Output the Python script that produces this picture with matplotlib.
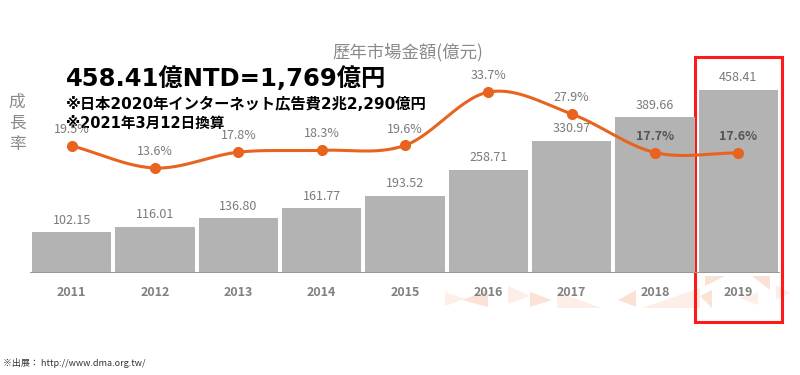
import numpy as np
import matplotlib.pyplot as plt
from matplotlib.patches import Polygon, Rectangle

plt.rcParams['font.family'] = ['Noto Sans CJK JP', 'DejaVu Sans']

years = ['2011', '2012', '2013', '2014', '2015', '2016', '2017', '2018', '2019']
amounts = [102.15, 116.01, 136.80, 161.77, 193.52, 258.71, 330.97, 389.66, 458.41]
growth = [19.5, 13.6, 17.8, 18.3, 19.6, 33.7, 27.9, 17.7, 17.6]

bar_color = '#b3b3b3'
line_color = '#e8641e'
label_color = '#7a7a7a'
wide = ['DejaVu Sans', 'Noto Sans CJK JP']


def catmull_rom(xs, ys, n=30):
    # smooth curve through the points (for drawing only)
    px = np.concatenate([[2 * xs[0] - xs[1]], xs, [2 * xs[-1] - xs[-2]]])
    py = np.concatenate([[2 * ys[0] - ys[1]], ys, [2 * ys[-1] - ys[-2]]])
    cx, cy = [], []
    t = np.linspace(0, 1, n)
    for i in range(1, len(px) - 2):
        for p, out in ((px, cx), (py, cy)):
            p0, p1, p2, p3 = p[i - 1], p[i], p[i + 1], p[i + 2]
            out.extend(0.5 * ((2 * p1) + (-p0 + p2) * t
                              + (2 * p0 - 5 * p1 + 4 * p2 - p3) * t ** 2
                              + (-p0 + 3 * p1 - 3 * p2 + p3) * t ** 3))
    return np.array(cx), np.array(cy)


fig = plt.figure(figsize=(8, 3.75), dpi=100)

# background overlay in pixel coordinates for decoration and free text
bg = fig.add_axes([0, 0, 1, 1])
bg.set_xlim(0, 800)
bg.set_ylim(375, 0)
bg.axis('off')

tris = [
    [(445, 292), (465, 299), (445, 306)],
    [(462, 300), (488, 290), (488, 307)],
    [(508, 286), (530, 296), (508, 304)],
    [(530, 292), (552, 300), (530, 307)],
    [(557, 292), (602, 308), (557, 308)],
    [(618, 300), (636, 290), (636, 307)],
    [(642, 308), (700, 288), (700, 308)],
    [(700, 296), (712, 290), (712, 308)],
    [(740, 298), (758, 292), (758, 305)],
    [(752, 276), (770, 276), (770, 290)],
    [(776, 285), (790, 293), (776, 300)],
    [(705, 276), (725, 276), (705, 286)],
]
for i, tr in enumerate(tris):
    bg.add_patch(Polygon(tr, closed=True, facecolor='#f4a27a',
                         alpha=0.18 if i % 2 == 0 else 0.3, lw=0))

ax = fig.add_axes([30 / 800, (375 - 273) / 375, 750 / 800, 233 / 375])
x = np.arange(len(years))
ax.bar(x, amounts, width=0.95, color=bar_color, zorder=2)
ax.set_xlim(-0.5, len(years) - 0.5)
ax.set_ylim(0, 582.5)
ax.axhline(0, color='#999999', lw=1.5, zorder=3)
for i, v in enumerate(amounts):
    ax.text(i, v + 14, f'{v:.2f}', ha='center', va='bottom',
            fontsize=9, color=label_color)
ax.set_xticks(x)
ax.set_xticklabels(years, fontsize=9, fontweight='bold', color='#808080')
ax.tick_params(axis='x', length=0, pad=9)
ax.set_yticks([])
for s in ax.spines.values():
    s.set_visible(False)
ax.patch.set_alpha(0)

ax2 = ax.twinx()
ax2.set_ylim(-14.2, 47.5)
ax2.set_yticks([])
for s in ax2.spines.values():
    s.set_visible(False)
sx, sy = catmull_rom(x.astype(float), np.array(growth, dtype=float))
ax2.plot(sx, sy, color=line_color, lw=2.2, zorder=4)
ax2.plot(x, growth, 'o', color=line_color, ms=7, zorder=5)
for i, g in enumerate(growth):
    bold = i >= 7
    ax2.text(i, g + 2.6, f'{g:.1f}%', ha='center', va='bottom', fontsize=9,
             color='#555555' if bold else label_color,
             fontweight='bold' if bold else 'normal')

# texts
bg.text(408, 52, '歷年市場金額(億元)', ha='center', va='center', fontsize=12.5,
        color='#8a8a8a', family=['Noto Sans CJK TC', 'DejaVu Sans'])
bg.text(66, 79, '458.41億NTD=1,769億円', ha='left', va='center',
        fontsize=17.5, fontweight='bold', color='black', family=wide)
bg.text(66, 104, '※日本2020年インターネット広告費2兆2,290億円', ha='left',
        va='center', fontsize=11, fontweight='bold', color='black', family=wide)
bg.text(66, 123, '※2021年3月12日換算', ha='left', va='center',
        fontsize=10.5, fontweight='bold', color='black', family=wide)
for k, ch in enumerate('成長率'):
    bg.text(17, 102 + 21 * k, ch, ha='center', va='center', fontsize=12,
            color='#8a8a8a', family=['Noto Sans CJK TC', 'DejaVu Sans'])
bg.text(3, 363, '※出展： http://www.dma.org.tw/', ha='left', va='center',
        fontsize=6.5, color='#333333')

bg.add_patch(Rectangle((695, 57), 87, 265, fill=False, edgecolor='#ff1a1a',
                       lw=2.2, zorder=10))
bg.set_zorder(0)
ax.set_zorder(1)
ax2.set_zorder(2)

fig.savefig('out.png', dpi=100)
